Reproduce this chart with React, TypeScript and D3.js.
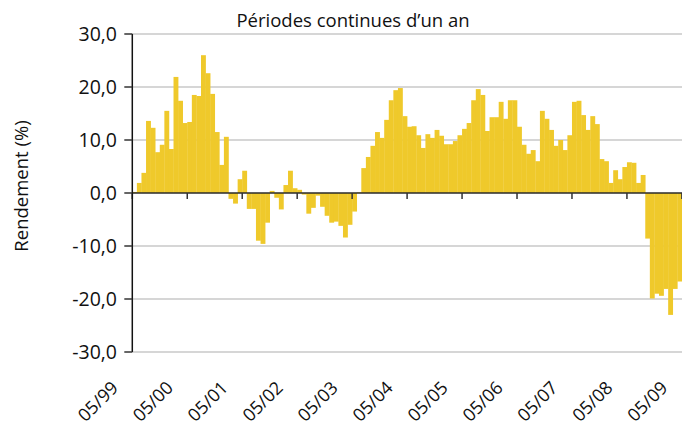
import React from "react";
import * as d3 from "d3";

// rendements glissants sur 12 mois (%), un tableau par année (06/aa -> 05/aa+1)
const an1999 = [0.2, 1.9, 3.8, 13.6, 12.3, 7.7, 9.1, 15.5, 8.3, 21.9, 17.4, 13.2];
const an2000 = [13.4, 18.5, 18.3, 26.0, 22.6, 18.7, 11.5, 5.3, 10.6, -1.1, -2.0, 2.6];
const an2001 = [4.2, -3.0, -3.0, -9.0, -9.6, -5.6, 0.4, -0.9, -3.1, 1.5, 4.2, 0.9];
const an2002 = [0.6, -0.3, -3.9, -2.8, -0.5, -2.6, -4.3, -5.6, -5.4, -6.2, -8.4, -6.0];
const an2003 = [-3.5, 0.1, 4.7, 6.8, 8.9, 11.5, 10.4, 13.8, 17.5, 19.4, 19.8, 14.5];
const an2004 = [12.5, 12.6, 10.9, 8.5, 11.1, 10.4, 11.9, 10.8, 9.2, 9.2, 9.8, 10.9];
const an2005 = [12.1, 13.2, 17.5, 19.6, 18.5, 11.7, 14.3, 14.3, 17.2, 14.0, 17.5, 17.5];
const an2006 = [12.5, 9.1, 7.4, 8.1, 6.0, 15.5, 14.0, 11.9, 8.9, 10.0, 8.1, 10.9];
const an2007 = [17.2, 17.4, 14.7, 11.9, 14.5, 13.0, 6.4, 6.0, 1.9, 4.3, 2.6, 4.9];
const an2008 = [5.8, 5.7, 1.9, 3.4, -8.6, -19.9, -19.0, -19.4, -18.1, -23.0, -18.1, -16.7];
const an2009 = [-13.3];

const rendement = [
  ...an1999, ...an2000, ...an2001, ...an2002, ...an2003, ...an2004,
  ...an2005, ...an2006, ...an2007, ...an2008, ...an2009,
];

const xLabels = ["05/99", "05/00", "05/01", "05/02", "05/03", "05/04", "05/05", "05/06", "05/07", "05/08", "05/09"];
const yTicks = [30, 20, 10, 0, -10, -20, -30];

const W = 682;
const H = 431;
const left = 132.3;
const barW = 4.58;
const top = 34;
const bottom = 352;

export default function App() {
  const idx = rendement.map((_, i) => i);
  const x = d3
    .scaleBand<number>()
    .domain(idx)
    .range([left, left + barW * rendement.length])
    .padding(0);
  const y = d3.scaleLinear().domain([-30, 30]).range([bottom, top]);
  const fmt = (v: number) => d3.format(".1f")(v).replace(".", ",").replace("−", "-");

  const font = "'Open Sans', sans-serif";

  return (
    <svg
      width={W}
      height={H}
      style={{ position: "absolute", left: 0, top: 0, background: "#fff" }}
      fontFamily={font}
    >
      <text x={353} y={27} textAnchor="middle" fontSize={18.5} fill="#111">
        Périodes continues d’un an
      </text>

      {/* grille */}
      {yTicks
        .filter((t) => t !== 0)
        .map((t) => (
          <line key={t} x1={left} x2={W} y1={y(t)} y2={y(t)} stroke="#c8c8c8" strokeWidth={1.5} />
        ))}

      {/* barres */}
      {rendement.map((v, i) => (
        <rect
          key={i}
          x={x(i)}
          width={x.bandwidth() + 0.3}
          y={y(Math.max(0, v))}
          height={Math.abs(y(v) - y(0))}
          fill="#efc92b"
        />
      ))}

      {/* axe X */}
      <line x1={left} x2={W} y1={y(0)} y2={y(0)} stroke="#2a2a2a" strokeWidth={1.5} />
      {xLabels.map((lab, j) => {
        const tx = left + barW * 12 * j;
        return (
          <g key={lab}>
            <line x1={tx} x2={tx} y1={y(0)} y2={y(0) + 6} stroke="#333" strokeWidth={1.5} />
            <text
              transform={`translate(${tx - 22},${bottom + 28}) rotate(-45)`}
              textAnchor="end"
              dy="0.7em"
              fontSize={18}
              fill="#111"
            >
              {lab}
            </text>
          </g>
        );
      })}

      {/* axe Y */}
      <line x1={left} x2={left} y1={top} y2={bottom} stroke="#111" strokeWidth={1.5} />
      {yTicks.map((t) => (
        <g key={t}>
          <line x1={left - 8} x2={left} y1={y(t)} y2={y(t)} stroke="#333" strokeWidth={1.5} />
          <text x={117} y={y(t)} dy="0.35em" textAnchor="end" fontSize={19.5} fill="#111">
            {fmt(t)}
          </text>
        </g>
      ))}
      <text
        transform={`translate(22,${(top + bottom) / 2 - 7}) rotate(-90)`}
        textAnchor="middle"
        dy="0.35em"
        fontSize={18.5}
        fill="#111"
      >
        Rendement (%)
      </text>
    </svg>
  );
}
